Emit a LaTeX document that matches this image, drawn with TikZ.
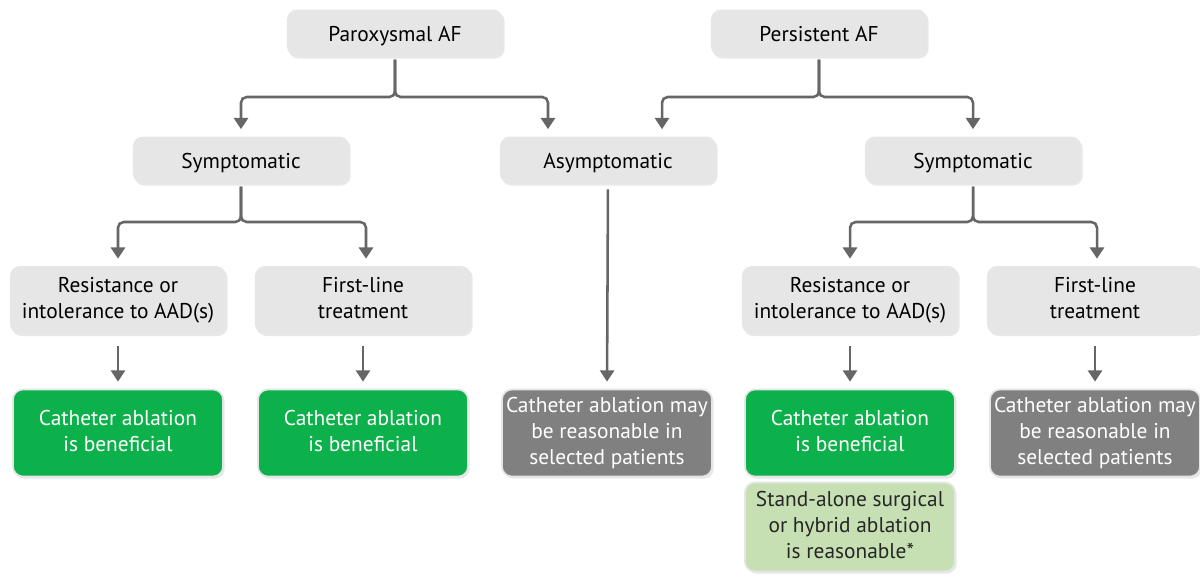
\documentclass[tikz,border=0pt]{standalone}
\usepackage{fontspec}
\setmainfont{PT Sans}
\usetikzlibrary{arrows.meta,shadows}
\definecolor{boxgray}{HTML}{E6E6E6}
\definecolor{okgreen}{HTML}{0DB14B}
\definecolor{maygray}{HTML}{808080}
\definecolor{palegreen}{HTML}{C6E0B4}
\definecolor{linegray}{HTML}{666666}
\newcommand\boxstrut{\rule[-2.5pt]{0pt}{17pt}}
\tikzset{
  base/.style={rounded corners=0.25cm, align=center, inner sep=0pt,
    font=\fontsize{15.2}{18.5}\selectfont,
    execute at begin node=\boxstrut, execute at end node=\boxstrut,
    drop shadow={opacity=0.18, shadow xshift=1.2pt, shadow yshift=-1.5pt}},
  qbox/.style={base, fill=boxgray, minimum width=5.4cm, minimum height=1.175cm},
  qbox2/.style={qbox, minimum height=1.7cm},
  good/.style={base, fill=okgreen, text=white, draw=black!10, line width=1.2pt,
    minimum width=5.25cm, minimum height=2.175cm},
  maybe/.style={good, fill=maygray},
  alt/.style={base, fill=palegreen, text=black!85, draw=black!10, line width=1.2pt,
    minimum width=5.25cm, minimum height=2.225cm},
  branch/.style={draw=linegray, line width=1.8pt, rounded corners=4pt,
    -{Triangle[width=10pt,length=8pt]}},
}
\begin{document}
\begin{tikzpicture}[x=0.025cm,y=-0.025cm]
  \useasboundingbox (0,0) rectangle (1200,575);
  \begin{scope}
    \node[qbox] (parox) at (395,33) {Paroxysmal AF};
    \node[qbox] (pers) at (819,33) {Persistent AF};
    \node[qbox] (symL) at (241,160) {Symptomatic};
    \node[qbox] (asym) at (608,160) {Asymptomatic};
    \node[qbox] (symR) at (973,160) {Symptomatic};
    \node[qbox2] (resL) at (118,300) {Resistance or\\intolerance to AAD(s)};
    \node[qbox2] (firstL) at (363,300) {First-line\\treatment};
    \node[qbox2] (resR) at (850,300) {Resistance or\\intolerance to AAD(s)};
    \node[qbox2] (firstR) at (1095,300) {First-line\\treatment};
    \node[good] (catL) at (118,433) {Catheter ablation\\is beneficial};
    \node[good] (catL2) at (363,433) {Catheter ablation\\is beneficial};
    \node[maybe] (mayA) at (607,433) {Catheter ablation may\\be reasonable in\\selected patients};
    \node[good] (catR) at (850,433) {Catheter ablation\\is beneficial};
    \node[maybe] (mayR) at (1095,433) {Catheter ablation may\\be reasonable in\\selected patients};
    \node[alt] (surg) at (850,527) {Stand-alone surgical\\or hybrid ablation\\is reasonable*};
  \end{scope}
  \coordinate (pj) at (395,97);
  \coordinate (sj) at (241,222);
  \begin{scope}[shorten <=2pt, shorten >=5pt]
    \path[branch] (parox.south) -- (pj) -| (symL.north);
    \path[branch] (parox.south) -- (pj) -| ([xshift=-1.5cm]asym.north);
    \path[branch] (pers.south) -- (pers.south |- pj) -| ([xshift=1.35cm]asym.north);
    \path[branch] (pers.south) -- (pers.south |- pj) -| (symR.north);
    \path[branch] (symL.south) -- (sj) -| (resL.north);
    \path[branch] (symL.south) -- (sj) -| ([xshift=0.075cm]firstL.north);
    \path[branch] (symR.south) -- (symR.south |- sj) -| (resR.north);
    \path[branch] (symR.south) -- (symR.south |- sj) -| ([xshift=0.05cm]firstR.north);
  \end{scope}
  \begin{scope}[shorten <=8pt, shorten >=5pt]
    \path[branch] (resL) -- (catL);
    \path[branch] (firstL) -- (catL2);
    \path[branch] (resR) -- (catR);
    \path[branch] (firstR) -- (mayR);
  \end{scope}
  \path[branch, shorten <=4pt, shorten >=5pt] (asym.south) -- (mayA.north);
\end{tikzpicture}
\end{document}
